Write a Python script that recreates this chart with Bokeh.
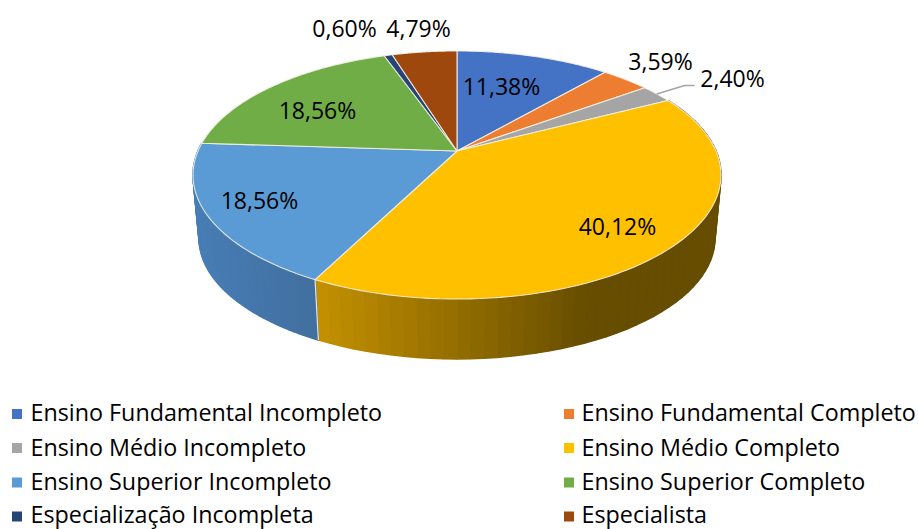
import numpy as np
from bokeh.plotting import figure
from bokeh.core.properties import value
from bokeh.embed import file_html
from bokeh.resources import INLINE

categories = ["Ensino Fundamental Incompleto", "Ensino Fundamental Completo",
              "Ensino Médio Incompleto", "Ensino Médio Completo",
              "Ensino Superior Incompleto", "Ensino Superior Completo",
              "Especialização Incompleta", "Especialista"]
values = [11.38, 3.59, 2.40, 40.12, 18.56, 18.56, 0.60, 4.79]
colors = ["#4472c4", "#ed7d31", "#a5a5a5", "#ffc000", "#5b9bd5", "#70ad47", "#264478", "#9e480e"]
# side shading (colour at the left, colour at the right of the visible side)
side_left = {3: (198, 146, 0), 4: (72, 126, 182)}
side_right = {3: (102, 77, 0), 4: (66, 112, 160)}
label_x = [502, 661, 733, 618, 260, 318, 345, 419]
label_y = [86, 61, 78, 226, 200, 110, 28, 28]

FONT = "Open Sans"
CX, CY, A, B, K = 457.5, 151.5, 259.0, 119.4, 0.1935
A2, CY2, B2 = 253.0, 215.5, 116.0


def rim(theta, a, cy, b):
    u, v = np.sin(theta), np.cos(theta)
    d = 1 + K * v
    return CX + a * u / d, cy - b * v / d


p = figure(width=918, height=529, output_backend="svg", toolbar_location=None,
           x_range=(1, 919), y_range=(530, 1), min_border=0)
p.axis.visible = False
p.grid.visible = False
p.outline_line_color = None

edges = np.concatenate([[0], np.cumsum(values)]) / 100 * 2 * np.pi

# side wall
for i in side_left:
    ts = np.linspace(edges[i], edges[i + 1], 60)
    xs, ys, cols = [], [], []
    for t0, t1 in zip(ts[:-1], ts[1:]):
        xt0, yt0 = rim(t0, A, CY, B)
        xt1, yt1 = rim(t1, A, CY, B)
        xb0, yb0 = rim(t0, A2, CY2, B2)
        xb1, yb1 = rim(t1, A2, CY2, B2)
        xs.append([xt0, xt1, xb1, xb0])
        ys.append([yt0, yt1, yb1, yb0])
        if i == 3:
            f = np.clip((xt0 - 316) / 280, 0, 1)
        else:
            f = np.clip((xt0 - 193) / 123, 0, 1)
        c = [int(l + (r - l) * f) for l, r in zip(side_left[i], side_right[i])]
        cols.append("#%02x%02x%02x" % tuple(c))
    p.patches(xs, ys, fill_color=cols, line_color=cols, line_width=1.6)

# divider on the wall
t = edges[4]
xa, ya = rim(t, A, CY, B)
xb, yb = rim(t, A2, CY2, B2)
p.line([xa, xb], [ya, yb], line_color="#e8e8e0", line_width=1.2)

# top face
for i, col in enumerate(colors):
    ts = np.linspace(edges[i], edges[i + 1], 80)
    x, y = rim(ts, A, CY, B)
    p.patch(np.r_[CX, x], np.r_[CY, y], fill_color=col, line_color="#f4f1e4", line_width=1.1, line_alpha=0.9)

# leader line of the third slice
mid = (edges[2] + edges[3]) / 2
mx, my = rim(mid, A, CY, B)
p.line([mx, 685, 695], [my, 86, 86], line_color="#a5a5a5", line_width=1.6)

labels = [f"{v:.2f}%".replace(".", ",") for v in values]
p.text(label_x, label_y, text=labels, text_font=value(FONT), text_font_size="23px",
       text_color="#000000", text_align="center", text_baseline="middle")

# legend
col_sq = [17.5, 569.5]
col_tx = [31, 582]
row_y = [414.5, 448.5, 483, 517]
row_ty = [412, 447, 481, 514]
leg_x = [col_sq[i % 2] for i in range(8)]
leg_tx = [col_tx[i % 2] for i in range(8)]
leg_y = [row_y[i // 2] for i in range(8)]
leg_ty = [row_ty[i // 2] for i in range(8)]
p.scatter(leg_x, leg_y, marker="square", size=10, fill_color=colors, line_color=None)
p.text(leg_tx, leg_ty, text=categories, text_font=value(FONT), text_font_size="23.3px",
       text_color="#000000", text_align="left", text_baseline="middle")

open("out.html", "w").write(file_html(p, INLINE))
